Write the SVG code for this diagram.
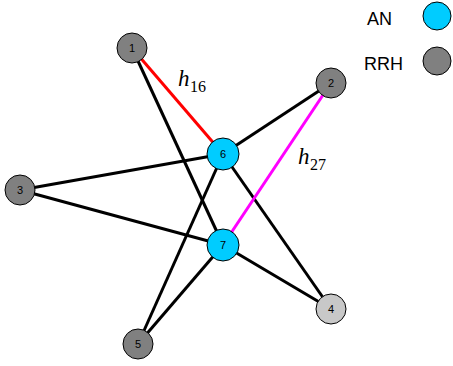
<svg xmlns="http://www.w3.org/2000/svg" width="453" height="366" viewBox="0 0 453 366">
<style>
.n{stroke:#000;stroke-width:1}
.an{fill:#00ccff}
.rrh{fill:#808080}
.lt{fill:#c8c8c8}
.num{font-family:"Liberation Sans",Arial,sans-serif;font-size:11px;text-anchor:middle;fill:#000}
.leg{font-family:"Liberation Sans",Arial,sans-serif;font-size:18px;fill:#000}
.h{font-family:"Liberation Serif","Times New Roman",serif;font-style:italic;font-size:23px;fill:#000}
.sub{font-family:"Liberation Serif","Times New Roman",serif;font-size:16px;fill:#000}
.e{stroke:#000;stroke-width:3;fill:none}
</style>
<rect width="453" height="366" fill="#fff"/>
<g id="connectors">
<line class="e" x1="132" y1="48" x2="223" y2="245"/>
<line class="e" x1="331" y1="83" x2="223" y2="154"/>
<line class="e" x1="20" y1="190" x2="223" y2="154"/>
<line class="e" x1="20" y1="190" x2="223" y2="245"/>
<line class="e" x1="223" y1="154" x2="138" y2="344"/>
<line class="e" x1="223" y1="154" x2="331" y2="309"/>
<line class="e" x1="223" y1="245" x2="138" y2="344"/>
<line class="e" x1="223" y1="245" x2="331" y2="309"/>
<line x1="132" y1="48" x2="223" y2="154" stroke="#ff0000" stroke-width="3"/>
<line x1="331" y1="83" x2="223" y2="245" stroke="#ff00ff" stroke-width="3"/>
</g>
<g id="node1"><circle class="n rrh" cx="132" cy="48" r="15"/><text class="num" x="132" y="52">1</text></g>
<g id="node2"><circle class="n rrh" cx="331" cy="83" r="15"/><text class="num" x="331" y="87">2</text></g>
<g id="node3"><circle class="n rrh" cx="20" cy="190" r="15"/><text class="num" x="20" y="194">3</text></g>
<g id="node4"><circle class="n lt" cx="331" cy="309" r="15"/><text class="num" x="331" y="313">4</text></g>
<g id="node5"><circle class="n rrh" cx="138" cy="344" r="15"/><text class="num" x="138" y="348">5</text></g>
<g id="node6"><circle class="n an" cx="223" cy="154" r="16"/><text class="num" x="223" y="158">6</text></g>
<g id="node7"><circle class="n an" cx="223" cy="245" r="16"/><text class="num" x="223" y="249">7</text></g>
<g id="label16"><text class="h" x="178" y="86">h</text><text class="sub" x="190" y="92">16</text></g>
<g id="label27"><text class="h" x="298" y="164">h</text><text class="sub" x="310" y="170">27</text></g>
<g id="legend">
<text class="leg" x="367" y="25">AN</text>
<circle class="n an" cx="437" cy="16" r="14"/>
<text class="leg" x="364" y="70">RRH</text>
<circle class="n rrh" cx="437" cy="61" r="14"/>
</g>
</svg>
